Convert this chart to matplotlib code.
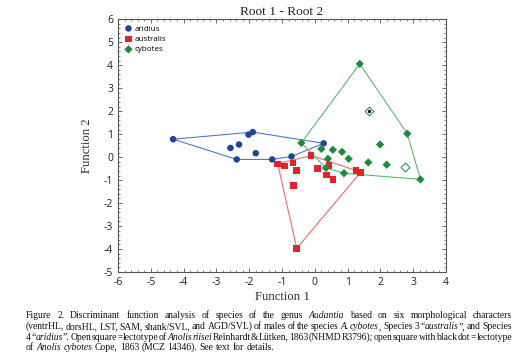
import numpy as np
import matplotlib
matplotlib.use("Agg")
import matplotlib.pyplot as plt
from matplotlib.ticker import MultipleLocator

plt.rcParams["axes.unicode_minus"] = False

# ---------------------------------------------------------------------------
# DATA
# ---------------------------------------------------------------------------
aridius_f1 = [-4.32, -2.02, -1.89, -2.57, -2.31, -1.80, -2.38, -1.30, -0.71, 0.27]
aridius_f2 = [0.78, 0.98, 1.09, 0.40, 0.55, 0.17, -0.10, -0.10, 0.03, 0.60]

australis_f1 = [-1.13, -0.93, -0.66, -0.55, -0.11, 0.08, 0.44, 0.36, 0.56, -0.65, -0.55, 1.25, 1.39]
australis_f2 = [-0.29, -0.39, -0.26, -0.58, 0.07, -0.49, -0.36, -0.78, -0.97, -1.23, -3.97, -0.58, -0.67]

cybotes_f1 = [-0.41, 1.37, 2.82, 3.22, 0.20, 0.55, 0.83, 1.03, 0.40, 0.34, 0.89, 1.99, 1.63, 2.19]
cybotes_f2 = [0.62, 4.06, 1.02, -0.97, 0.36, 0.32, 0.23, -0.07, -0.07, -0.47, -0.70, 0.55, -0.23, -0.33]

# lectotypes (open symbols)
riisei_f1, riisei_f2 = 2.74, -0.43
cybotes_type_f1, cybotes_type_f2 = 1.64, 2.02

species = ["aridius", "australis", "cybotes"]
markers = ["o", "s", "D"]
colors = ["#21449b", "#e8202a", "#1b8c3c"]
hull_colors = ["#5577c4", "#f06a6a", "#5cb870"]

caption_lines = [
    "Figure 2. Discriminant function analysis of species of the genus _Audantia_ based on six morphological characters",
    "(ventrHL, dorsHL, LST, SAM, shank/SVL, and AGD/SVL) of males of the species _A. cybotes_, Species 3 \u201c_australis_\u201d, and Species",
    "4 \u201c_aridius_\u201d. Open square = lectotype of _Anolis riisei_ Reinhardt & L\u00fctken, 1863 (NHMD R3796); open square with black dot = lectotype",
    "of _Anolis cybotes_ Cope, 1863 (MCZ 14346). See text for details.",
]


def convex_hull(xs, ys):
    pts = sorted(set(zip(xs, ys)))

    def cross(o, a, b):
        return (a[0] - o[0]) * (b[1] - o[1]) - (a[1] - o[1]) * (b[0] - o[0])

    lower, upper = [], []
    for p in pts:
        while len(lower) >= 2 and cross(lower[-2], lower[-1], p) <= 0:
            lower.pop()
        lower.append(p)
    for p in reversed(pts):
        while len(upper) >= 2 and cross(upper[-2], upper[-1], p) <= 0:
            upper.pop()
        upper.append(p)
    hull = lower[:-1] + upper[:-1]
    hull.append(hull[0])
    return [p[0] for p in hull], [p[1] for p in hull]


fig = plt.figure(figsize=(5.26, 3.59), dpi=100, facecolor="white")
ax = fig.add_axes([0.2243, 0.2423, 0.6236, 0.7040])

groups = [(aridius_f1, aridius_f2), (australis_f1, australis_f2), (cybotes_f1, cybotes_f2)]
for (fx, fy), name, m, c, hc in zip(groups, species, markers, colors, hull_colors):
    hx, hy = convex_hull(fx, fy)
    ax.plot(hx, hy, color=hc, lw=0.8, zorder=2)
    ax.scatter(fx, fy, marker=m, s=22 if m != "D" else 18, color=c, edgecolors="none",
               zorder=3, label=name)

ax.scatter([riisei_f1], [riisei_f2], marker="D", s=20, facecolors="white",
           edgecolors=colors[2], linewidths=0.7, zorder=3)
ax.scatter([cybotes_type_f1], [cybotes_type_f2], marker="D", s=20, facecolors="white",
           edgecolors=colors[2], linewidths=0.7, zorder=3)
ax.scatter([cybotes_type_f1], [cybotes_type_f2], marker="o", s=2, color="black", zorder=4)

ax.set_xlim(-6, 4)
ax.set_ylim(-5, 6)
ax.xaxis.set_major_locator(MultipleLocator(1))
ax.yaxis.set_major_locator(MultipleLocator(1))
ax.xaxis.set_minor_locator(MultipleLocator(0.2))
ax.yaxis.set_minor_locator(MultipleLocator(0.2))
ax.tick_params(which="both", direction="in", top=True, right=True, colors="#555555",
               labelcolor="#222222", labelsize=7.5)
ax.tick_params(which="major", length=3, width=0.6)
ax.tick_params(which="minor", length=1.6, width=0.5)
for lab in ax.get_xticklabels() + ax.get_yticklabels():
    lab.set_family("Open Sans")
for sp in ax.spines.values():
    sp.set_color("#555555")
    sp.set_linewidth(0.8)

ax.set_xlabel("Function 1", family="Liberation Serif", fontsize=9.2, color="#2c2c4a", labelpad=2)
ax.set_ylabel("Function 2", family="Liberation Serif", fontsize=9.2, color="#2c2c4a", labelpad=8)
ax.set_title("Root 1 - Root 2", family="Liberation Serif", fontsize=9.6, color="#222222", pad=3)

leg = ax.legend(loc="upper left", frameon=False, handletextpad=0.2,
                borderaxespad=0.3, labelspacing=0.35, handlelength=1.2,
                prop={"family": "Open Sans", "size": 5.8})

# ---------------------------------------------------------------------------
# caption, justified word by word
# ---------------------------------------------------------------------------
fig.canvas.draw()
renderer = fig.canvas.get_renderer()
left_px, right_px = 26, 512
line_y = [316, 326.5, 337, 347.5]
cap_size = 6.9


def split_words(line):
    # keep italic state across spaces: returns list of words, each a list of (text, italic)
    words, cur, italic, buf = [], [], False, ""
    for ch in line:
        if ch == "_":
            if buf:
                cur.append((buf, italic))
                buf = ""
            italic = not italic
        elif ch == " ":
            if buf:
                cur.append((buf, italic))
                buf = ""
            words.append(cur)
            cur = []
        else:
            buf += ch
    if buf:
        cur.append((buf, italic))
    if cur:
        words.append(cur)
    return words


def run_width(text, italic):
    t = fig.text(0, 0, text, fontsize=cap_size, family="Liberation Serif",
                 style="italic" if italic else "normal")
    w = t.get_window_extent(renderer).width
    t.remove()
    return w


W, H = fig.bbox.width, fig.bbox.height
for li, line in enumerate(caption_lines):
    word_runs = split_words(line)
    widths = [[run_width(t, it) for t, it in wr] for wr in word_runs]
    total = sum(sum(w) for w in widths)
    if li < len(caption_lines) - 1:
        gap = (right_px - left_px - total) / (len(word_runs) - 1)
    else:
        gap = run_width("a b", False) - run_width("ab", False)
    x = left_px
    for wr, ws in zip(word_runs, widths):
        for (t, it), w in zip(wr, ws):
            fig.text(x / W, 1 - line_y[li] / H, t, fontsize=cap_size, family="Liberation Serif",
                     style="italic" if it else "normal", va="center", ha="left", color="#111111")
            x += w
        x += gap

fig.savefig("out.png", dpi=100, facecolor="white")
